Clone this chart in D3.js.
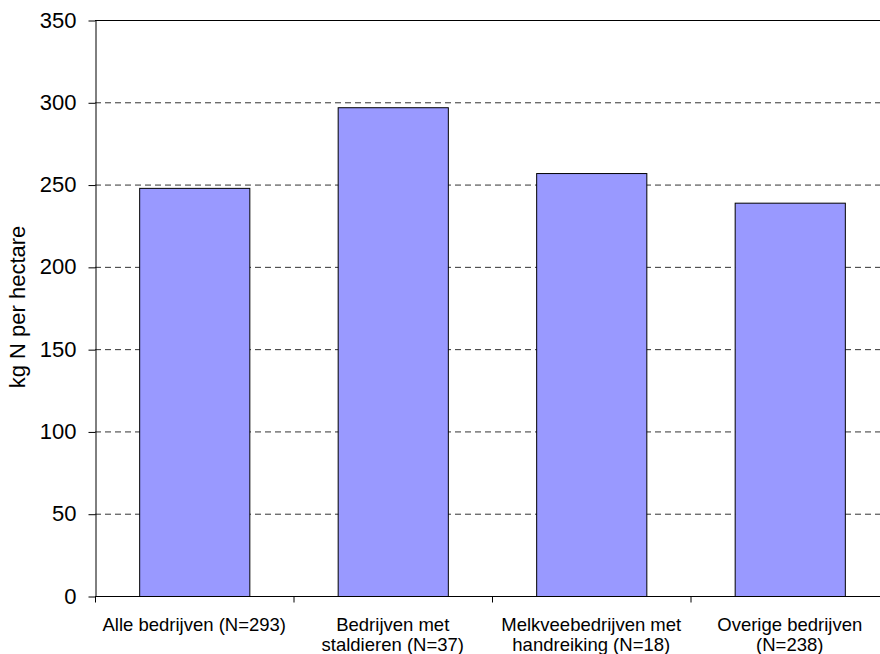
<!DOCTYPE html>
<html>
<head>
<meta charset="utf-8">
<script src="https://cdn.jsdelivr.net/npm/d3@7"></script>
<style>
  body { margin: 0; background: #fff; }
  svg { display: block; font-family: Arial, "Liberation Sans", sans-serif; }
</style>
</head>
<body>
<svg width="880" height="654"></svg>
<script>
const categories = [
  ["Alle bedrijven (N=293)"],
  ["Bedrijven met", "staldieren (N=37)"],
  ["Melkveebedrijven met", "handreiking (N=18)"],
  ["Overige bedrijven", "(N=238)"]
];
const values = [248, 297, 257, 239];
const yTicks = [0, 50, 100, 150, 200, 250, 300, 350];

const svg = d3.select("svg");
const margin = { left: 95, top: 20, bottom: 58 };
const plotW = 794;   // plot area runs a little past the right edge
const plotH = 654 - margin.top - margin.bottom;

const g = svg.append("g").attr("transform", `translate(${margin.left},${margin.top})`);

const x = d3.scaleBand()
  .domain(d3.range(categories.length))
  .range([0, plotW])
  .paddingInner(0.445)
  .paddingOuter(0.2225);

const y = d3.scaleLinear().domain([0, 350]).range([plotH, 0]);

// gridlines
g.selectAll(".grid")
  .data(yTicks.filter(t => t > 0))
  .enter()
  .append("line")
  .attr("class", "grid")
  .attr("x1", 0)
  .attr("x2", plotW)
  .attr("y1", d => y(d) + 0.5)
  .attr("y2", d => y(d) + 0.5)
  .attr("stroke", d => d === 350 ? "#000" : "#333")
  .attr("stroke-width", 1)
  .attr("stroke-dasharray", d => d === 350 ? null : "6,4");

// bars
g.selectAll(".bar")
  .data(values)
  .enter()
  .append("rect")
  .attr("class", "bar")
  .attr("x", (d, i) => x(i) + 0.5)
  .attr("y", d => y(d) + 0.5)
  .attr("width", x.bandwidth())
  .attr("height", d => plotH - y(d))
  .attr("fill", "#9999FF")
  .attr("stroke", "#000")
  .attr("stroke-width", 1);

// y axis
const yAxis = g.append("g")
  .attr("transform", "translate(0.5,0)")
  .call(d3.axisLeft(y).tickValues(yTicks).tickSize(7).tickPadding(12).tickSizeOuter(0));
yAxis.attr("font-size", null).attr("font-family", null);
yAxis.select(".domain").attr("stroke", "#000");
yAxis.selectAll(".tick line").attr("stroke", "#000").attr("transform", "translate(0,0.5)");
yAxis.selectAll(".tick text")
  .style("font-size", "22px")
  .attr("fill", "#000");

// x axis line
const step = plotW / categories.length;
const boundaries = d3.range(categories.length).map(i => i * step);
const xAxis = g.append("g").attr("transform", `translate(0,${plotH + 0.5})`);
xAxis.append("line")
  .attr("x1", 0).attr("x2", plotW)
  .attr("y1", 0).attr("y2", 0)
  .attr("stroke", "#000");
xAxis.selectAll(".xtick")
  .data(boundaries)
  .enter()
  .append("line")
  .attr("x1", d => d + 0.5).attr("x2", d => d + 0.5)
  .attr("y1", 0).attr("y2", 6)
  .attr("stroke", "#000");

// category labels
xAxis.selectAll(".xlabel")
  .data(categories)
  .enter()
  .append("text")
  .attr("class", "xlabel")
  .attr("text-anchor", "middle")
  .style("font-size", "18.5px")
  .attr("fill", "#000")
  .each(function(lines, i) {
    const t = d3.select(this);
    lines.forEach((ln, k) => {
      t.append("tspan")
        .attr("x", x(i) + x.bandwidth() / 2)
        .attr("y", 34 + k * 20.5)
        .text(ln);
    });
  });

// y title
svg.append("text")
  .attr("transform", `translate(25,307) rotate(-90)`)
  .attr("text-anchor", "middle")
  .style("font-size", "22px")
  .attr("fill", "#000")
  .text("kg N per hectare");
</script>
</body>
</html>
